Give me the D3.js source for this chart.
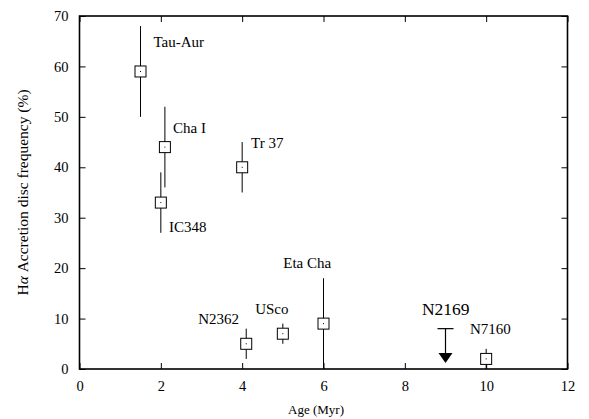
<!DOCTYPE html>
<html>
<head>
<meta charset="utf-8">
<script src="https://cdn.jsdelivr.net/npm/d3@7"></script>
<style>
  html, body { margin: 0; padding: 0; background: #fff; }
  svg { display: block; }
  text { font-family: "Liberation Serif", "Times New Roman", serif; fill: #000; }
</style>
</head>
<body>
<svg id="chart" width="589" height="419"></svg>
<script>
// Clusters: age (Myr), H-alpha accretion disc frequency (%), error range
const clusters = ["Tau-Aur", "Cha I", "IC348", "Tr 37", "N2362", "USco", "Eta Cha", "N7160"];
const ages     = [1.5, 2.1, 2.0, 4.0, 4.1, 5.0, 6.0, 10.0];
const freqs    = [59, 44, 33, 40, 5, 7, 9, 2];
const errLow   = [50, 36, 27, 35, 2, 5, 0, 0];
const errHigh  = [68, 52, 39, 45, 8, 9, 18, 4];

// Label anchor positions in data units (left edge, baseline)
const labelX   = [1.82, 2.30, 2.20, 4.22, 2.92, 4.32, 5.01, 9.60];
const labelY   = [63.9, 46.8, 27.2, 43.8, 8.9, 10.9, 20.0, 6.9];

// Upper limit for NGC 2169
const limitName  = "N2169";
const limitAge   = 9.0;
const limitValue = 8;
const limitArrowTo = 1.2;
const limitLabelX = 8.42;
const limitLabelY = 10.7;

// Axis ticks
const xTicks = [0, 2, 4, 6, 8, 10, 12];
const yTicks = [0, 10, 20, 30, 40, 50, 60, 70];

const W = 589, H = 419;
const margin = { top: 16, right: 21.5, bottom: 50, left: 79.5 };
const svg = d3.select("#chart");

const x = d3.scaleLinear().domain([0, 12]).range([margin.left, W - margin.right]);
const y = d3.scaleLinear().domain([0, 70]).range([H - margin.bottom, margin.top]);

const tickLen = 6;
const serif = '"Liberation Serif", "Times New Roman", serif';

// Inward ticks on all four sides
svg.append("g")
  .attr("transform", `translate(0,${y(0)})`)
  .call(d3.axisBottom(x).tickValues(xTicks).tickSize(-tickLen).tickPadding(12).tickFormat(d3.format("d")))
  .call(g => g.select(".domain").remove())
  .call(g => g.selectAll(".tick line").attr("stroke", "#000").attr("stroke-width", 1))
  .call(g => g.selectAll(".tick text").attr("font-size", 14.5).style("font-family", serif));

svg.append("g")
  .attr("transform", `translate(0,${y(70)})`)
  .call(d3.axisTop(x).tickValues(xTicks).tickSize(-tickLen).tickFormat(""))
  .call(g => g.select(".domain").remove())
  .call(g => g.selectAll(".tick line").attr("stroke", "#000").attr("stroke-width", 1));

svg.append("g")
  .attr("transform", `translate(${x(0)},0)`)
  .call(d3.axisLeft(y).tickValues(yTicks).tickSize(-tickLen).tickPadding(11).tickFormat(d3.format("d")))
  .call(g => g.select(".domain").remove())
  .call(g => g.selectAll(".tick line").attr("stroke", "#000").attr("stroke-width", 1))
  .call(g => g.selectAll(".tick text").attr("font-size", 14.5).style("font-family", serif));

svg.append("g")
  .attr("transform", `translate(${x(12)},0)`)
  .call(d3.axisRight(y).tickValues(yTicks).tickSize(-tickLen).tickFormat(""))
  .call(g => g.select(".domain").remove())
  .call(g => g.selectAll(".tick line").attr("stroke", "#000").attr("stroke-width", 1));

// Plot frame
svg.append("rect")
  .attr("x", x(0)).attr("y", y(70))
  .attr("width", x(12) - x(0)).attr("height", y(0) - y(70))
  .attr("fill", "none").attr("stroke", "#000").attr("stroke-width", 1.6);

const data = clusters.map((name, i) => ({
  name, age: ages[i], freq: freqs[i], lo: errLow[i], hi: errHigh[i],
  lx: labelX[i], ly: labelY[i]
}));

// Error bars
svg.append("g").selectAll("line")
  .data(data).join("line")
  .attr("x1", d => x(d.age)).attr("x2", d => x(d.age))
  .attr("y1", d => y(d.lo)).attr("y2", d => y(d.hi))
  .attr("stroke", "#000").attr("stroke-width", 1);

// Open square markers with centre dot
const box = 11;
const pts = svg.append("g").selectAll("g")
  .data(data).join("g")
  .attr("transform", d => `translate(${x(d.age)},${y(d.freq)})`);
pts.append("rect")
  .attr("x", -box / 2).attr("y", -box / 2)
  .attr("width", box).attr("height", box)
  .attr("fill", "#fff").attr("stroke", "#000").attr("stroke-width", 1);
pts.append("rect")
  .attr("x", -0.5).attr("y", -0.5).attr("width", 1).attr("height", 1)
  .attr("fill", "#000");

// Cluster names
svg.append("g").selectAll("text")
  .data(data).join("text")
  .attr("x", d => x(d.lx)).attr("y", d => y(d.ly))
  .attr("font-size", 15)
  .style("font-family", serif)
  .text(d => d.name);

// Upper limit: bar, shaft and filled arrow head
const lim = svg.append("g");
const ax = x(limitAge);
const headH = 10, headW = 14, barW = 16;
lim.append("line")
  .attr("x1", ax - barW / 2).attr("x2", ax + barW / 2)
  .attr("y1", y(limitValue)).attr("y2", y(limitValue))
  .attr("stroke", "#000").attr("stroke-width", 1.2);
lim.append("line")
  .attr("x1", ax).attr("x2", ax)
  .attr("y1", y(limitValue)).attr("y2", y(limitArrowTo) - headH + 1)
  .attr("stroke", "#000").attr("stroke-width", 1.2);
lim.append("path")
  .attr("d", d3.line()([
    [ax - headW / 2, y(limitArrowTo) - headH],
    [ax + headW / 2, y(limitArrowTo) - headH],
    [ax, y(limitArrowTo)]
  ]) + "Z")
  .attr("fill", "#000");
lim.append("text")
  .attr("x", x(limitLabelX)).attr("y", y(limitLabelY))
  .attr("font-size", 17.5)
  .style("font-family", serif)
  .text(limitName);

// Axis titles
svg.append("text")
  .attr("x", 316).attr("y", 414)
  .attr("text-anchor", "middle")
  .attr("font-size", 13)
  .style("font-family", serif)
  .text("Age (Myr)");

svg.append("text")
  .attr("transform", `translate(28,${(y(0) + y(70)) / 2}) rotate(-90)`)
  .attr("text-anchor", "middle")
  .attr("font-size", 15.5)
  .style("font-family", serif)
  .html('H<tspan font-style="italic">α</tspan> Accretion disc frequency (%)');
</script>
</body>
</html>
